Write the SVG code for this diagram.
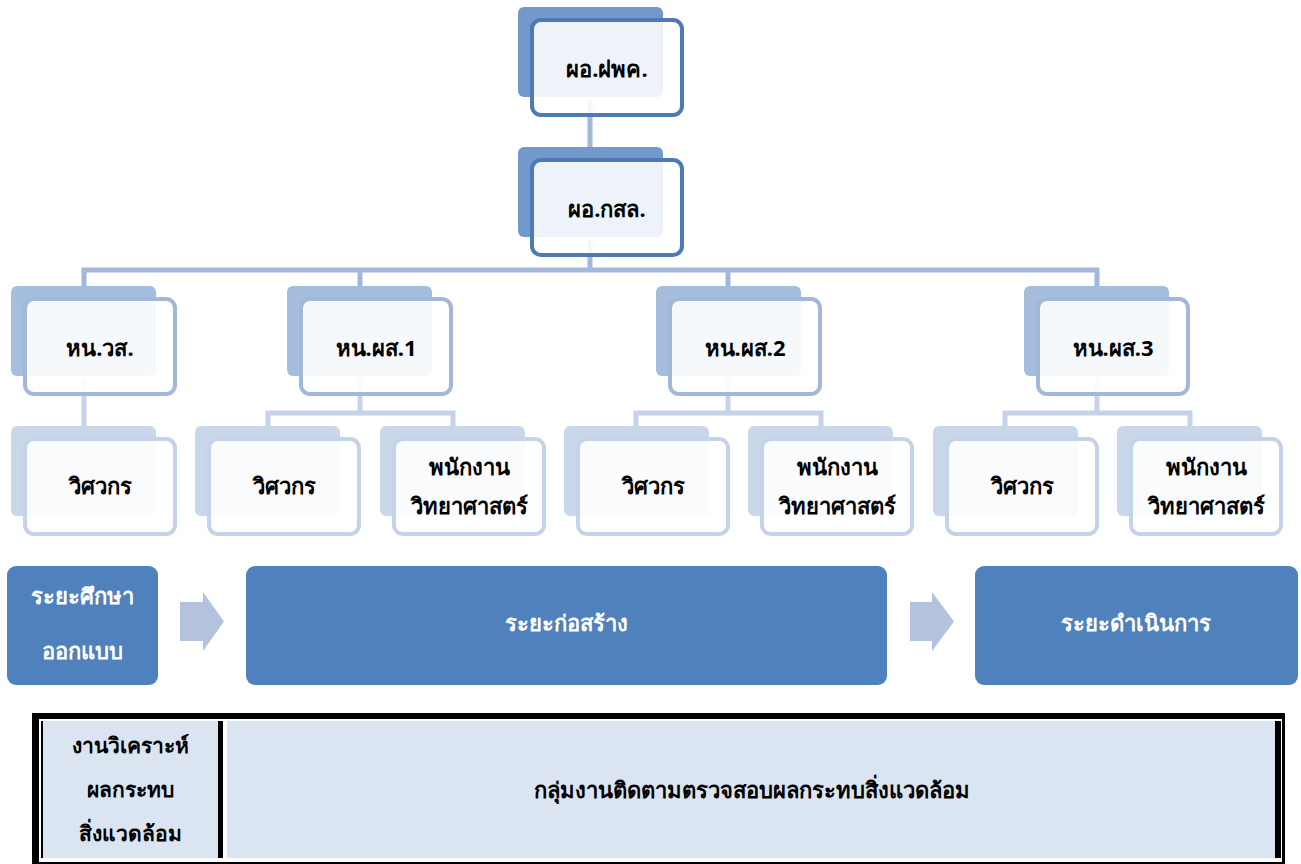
<svg xmlns="http://www.w3.org/2000/svg" width="1301" height="864" viewBox="0 0 1301 864">
<style>
text{font-family:"Noto Sans","DejaVu Sans",sans-serif;font-weight:bold;text-anchor:middle;dominant-baseline:central}
.lbl{font-size:22px;fill:#000}
.wl{font-size:22px;fill:#fff}
.tl{font-size:21px;fill:#000}
.tr{font-size:22px;fill:#000}
.b1{fill:#7399cc}
.f1{fill:#fff;fill-opacity:0.88;stroke:#4f79b5;stroke-width:4}
.b3{fill:#a6bedd}
.f3{fill:#fff;fill-opacity:0.9;stroke:#a3b8d8;stroke-width:4}
.b4{fill:#c9d7eb}
.f4{fill:#fff;fill-opacity:0.9;stroke:#c5d3e8;stroke-width:4}
.c1{stroke:#a3b8d8;stroke-width:5;fill:none}
.c2{stroke:#c5d3e8;stroke-width:5;fill:none}
.phase{fill:#4f81bd}
.arr{fill:#b3c3de}
</style>
<rect width="1301" height="864" fill="#fff"/>
<g id="connectors">
<line class="c1" x1="590" y1="100" x2="590" y2="160"/>
<path class="c1" d="M590 240 V270 M84 298 V270 H1097 V298 M360 270 V298 M728 270 V298"/>
<path class="c2" d="M84 380 V440"/>
<path class="c2" d="M360 380 V413 M268 430 V413 H453 V430"/>
<path class="c2" d="M728 380 V413 M636 430 V413 H821 V430"/>
<path class="c2" d="M1097 380 V413 M1005 430 V413 H1190 V430"/>
</g>
<g id="n-top">
<rect class="b1" x="518" y="7" width="145" height="90" rx="6"/>
<rect class="f1" x="532" y="20" width="150" height="95" rx="9"/>
<text class="lbl" x="607" y="68">ผอ.ฝพค.</text>
</g>
<g id="n-kasl">
<rect class="b1" x="518" y="147" width="145" height="90" rx="6"/>
<rect class="f1" x="532" y="160" width="150" height="95" rx="9"/>
<text class="lbl" x="607" y="208">ผอ.กสล.</text>
</g>
<g id="n-vs">
<rect class="b3" x="11" y="286" width="145" height="90" rx="6"/>
<rect class="f3" x="25" y="299" width="150" height="95" rx="9"/>
<text class="lbl" x="100" y="347">หน.วส.</text>
</g>
<g id="n-ps1">
<rect class="b3" x="287" y="286" width="145" height="90" rx="6"/>
<rect class="f3" x="301" y="299" width="150" height="95" rx="9"/>
<text class="lbl" x="376" y="347">หน.ผส.1</text>
</g>
<g id="n-ps2">
<rect class="b3" x="656" y="286" width="145" height="90" rx="6"/>
<rect class="f3" x="670" y="299" width="150" height="95" rx="9"/>
<text class="lbl" x="745" y="347">หน.ผส.2</text>
</g>
<g id="n-ps3">
<rect class="b3" x="1024" y="286" width="145" height="90" rx="6"/>
<rect class="f3" x="1038" y="299" width="150" height="95" rx="9"/>
<text class="lbl" x="1113" y="347">หน.ผส.3</text>
</g>
<g id="n-vs-eng">
<rect class="b4" x="11" y="426" width="145" height="90" rx="6"/>
<rect class="f4" x="25" y="439" width="150" height="95" rx="9"/>
<text class="lbl" x="100" y="485">วิศวกร</text>
</g>
<g id="n-ps1-eng">
<rect class="b4" x="195" y="426" width="145" height="90" rx="6"/>
<rect class="f4" x="209" y="439" width="150" height="95" rx="9"/>
<text class="lbl" x="284" y="485">วิศวกร</text>
</g>
<g id="n-ps1-sci">
<rect class="b4" x="380" y="426" width="145" height="90" rx="6"/>
<rect class="f4" x="394" y="439" width="150" height="95" rx="9"/>
<text class="lbl" x="469" y="466">พนักงาน</text>
<text class="lbl" x="469" y="505">วิทยาศาสตร์</text>
</g>
<g id="n-ps2-eng">
<rect class="b4" x="564" y="426" width="145" height="90" rx="6"/>
<rect class="f4" x="578" y="439" width="150" height="95" rx="9"/>
<text class="lbl" x="653" y="485">วิศวกร</text>
</g>
<g id="n-ps2-sci">
<rect class="b4" x="748" y="426" width="145" height="90" rx="6"/>
<rect class="f4" x="762" y="439" width="150" height="95" rx="9"/>
<text class="lbl" x="837" y="466">พนักงาน</text>
<text class="lbl" x="837" y="505">วิทยาศาสตร์</text>
</g>
<g id="n-ps3-eng">
<rect class="b4" x="933" y="426" width="145" height="90" rx="6"/>
<rect class="f4" x="947" y="439" width="150" height="95" rx="9"/>
<text class="lbl" x="1022" y="485">วิศวกร</text>
</g>
<g id="n-ps3-sci">
<rect class="b4" x="1117" y="426" width="145" height="90" rx="6"/>
<rect class="f4" x="1131" y="439" width="150" height="95" rx="9"/>
<text class="lbl" x="1206" y="466">พนักงาน</text>
<text class="lbl" x="1206" y="505">วิทยาศาสตร์</text>
</g>
<g id="phase-study">
<rect class="phase" x="7" y="566" width="151" height="119" rx="9"/>
<text class="wl" x="82" y="595">ระยะศึกษา</text>
<text class="wl" x="82" y="650">ออกแบบ</text>
</g>
<g id="arrow1"><path class="arr" d="M180 602 H203 V592 L224 621.5 L203 651 V641 H180 Z"/></g>
<g id="phase-build">
<rect class="phase" x="246" y="566" width="641" height="119" rx="9"/>
<text class="wl" x="566" y="622">ระยะก่อสร้าง</text>
</g>
<g id="arrow2"><path class="arr" d="M910 602 H932 V592 L954 621.5 L932 651 V641 H910 Z"/></g>
<g id="phase-op">
<rect class="phase" x="975" y="566" width="323" height="119" rx="9"/>
<text class="wl" x="1136" y="622">ระยะดำเนินการ</text>
</g>
<g id="table">
<rect x="32" y="713" width="1253" height="160" fill="#000"/>
<rect x="39" y="719" width="1243" height="143" fill="#fff"/>
<rect x="41" y="721" width="1241" height="139" fill="#000"/>
<rect x="43" y="721" width="175" height="137" fill="#dbe5f1"/>
<rect x="223" y="721" width="4" height="137" fill="#fff"/>
<rect x="227" y="721" width="1048" height="137" fill="#dbe5f1"/>
<rect x="1281" y="721" width="1" height="139" fill="#fff"/>
<rect x="41" y="858" width="1241" height="2" fill="#fff"/>
<text class="tl" x="130" y="745">งานวิเคราะห์</text>
<text class="tl" x="130" y="789">ผลกระทบ</text>
<text class="tl" x="130" y="833">สิ่งแวดล้อม</text>
<text class="tr" x="752" y="789">กลุ่มงานติดตามตรวจสอบผลกระทบสิ่งแวดล้อม</text>
</g>
</svg>
